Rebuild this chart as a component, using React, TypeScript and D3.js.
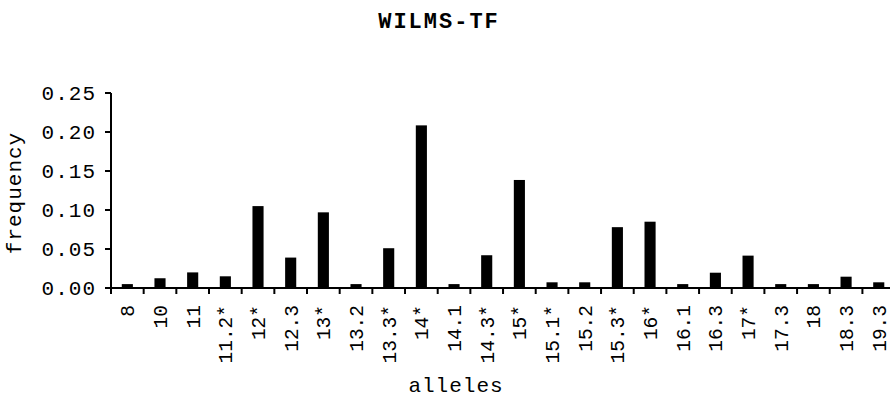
import React, { useEffect, useRef } from 'react';
import * as d3 from 'd3';

const alleles = [
  '8', '10', '11', '11.2*', '12*', '12.3', '13*', '13.2', '13.3*', '14*', '14.1', '14.3*',
  '15*', '15.1*', '15.2', '15.3*', '16*', '16.1', '16.3', '17*', '17.3', '18', '18.3', '19.3',
];
const frequencies = [
  0.005, 0.0125, 0.02, 0.015, 0.105, 0.039, 0.097, 0.005, 0.051, 0.2085, 0.005, 0.042,
  0.1385, 0.0073, 0.0073, 0.078, 0.085, 0.005, 0.0196, 0.0415, 0.005, 0.005, 0.0145, 0.0073,
];
const yTicks = [0, 0.05, 0.1, 0.15, 0.2, 0.25];

const WIDTH = 890;
const HEIGHT = 397;
const FONT = '"Liberation Mono", "Courier New", monospace';

export default function App() {
  const svgRef = useRef<SVGSVGElement>(null);

  useEffect(() => {
    if (!svgRef.current) return;
    const svg = d3.select(svgRef.current);
    svg.selectAll('*').remove();

    const margin = { left: 111, top: 93, bottom: 288 };

    // the plot runs a little past the right edge of the picture, as in the original
    const x = d3.scaleBand<string>()
      .domain(alleles)
      .range([margin.left, margin.left + 24 * 32.67])
      .padding(0);
    const y = d3.scaleLinear().domain([0, 0.25]).range([margin.bottom, margin.top]);

    // title
    svg.append('text')
      .attr('x', 439)
      .attr('y', 28)
      .attr('text-anchor', 'middle')
      .attr('font-family', FONT)
      .attr('font-weight', 'bold')
      .attr('font-size', 22)
      .attr('letter-spacing', 2)
      .text('WILMS-TF');

    // bars
    const barW = x.bandwidth() * 0.34;
    svg.append('g')
      .selectAll('rect')
      .data(alleles)
      .join('rect')
      .attr('x', d => (x(d) || 0) + x.bandwidth() / 2 - barW / 2)
      .attr('y', (d, i) => y(frequencies[i]))
      .attr('width', barW)
      .attr('height', (d, i) => y(0) - y(frequencies[i]))
      .attr('fill', '#000');

    // y axis
    const ya = svg.append('g');
    ya.append('line')
      .attr('x1', margin.left).attr('x2', margin.left)
      .attr('y1', y(0.25)).attr('y2', y(0))
      .attr('stroke', '#000').attr('stroke-width', 2);
    yTicks.forEach(t => {
      ya.append('line')
        .attr('x1', margin.left - 6).attr('x2', margin.left)
        .attr('y1', y(t)).attr('y2', y(t))
        .attr('stroke', '#000').attr('stroke-width', 2);
      ya.append('text')
        .attr('x', 96)
        .attr('y', y(t))
        .attr('dy', '0.35em')
        .attr('text-anchor', 'end')
        .attr('font-family', FONT)
        .attr('font-size', 21)
        .attr('letter-spacing', 1)
        .text(t.toFixed(2));
    });

    // x axis
    const xa = svg.append('g');
    const [r0, r1] = x.range();
    xa.append('line')
      .attr('x1', r0).attr('x2', r1)
      .attr('y1', y(0)).attr('y2', y(0))
      .attr('stroke', '#000').attr('stroke-width', 2);
    alleles.forEach(a => {
      const bx = x(a) || 0;
      xa.append('line')
        .attr('x1', bx).attr('x2', bx)
        .attr('y1', y(0)).attr('y2', y(0) + 6)
        .attr('stroke', '#000').attr('stroke-width', 2);
      const cx = bx + x.bandwidth() / 2;
      xa.append('text')
        .attr('transform', `translate(${cx},305) rotate(-90)`)
        .attr('dy', '0.35em')
        .attr('text-anchor', 'end')
        .attr('font-family', FONT)
        .attr('font-size', 19.5)
        .text(a);
    });

    // axis titles
    svg.append('text')
      .attr('x', 456)
      .attr('y', 392)
      .attr('text-anchor', 'middle')
      .attr('font-family', FONT)
      .attr('font-size', 21)
      .attr('letter-spacing', 1)
      .text('alleles');

    svg.append('text')
      .attr('transform', 'translate(21,193) rotate(-90)')
      .attr('text-anchor', 'middle')
      .attr('font-family', FONT)
      .attr('font-size', 21)
      .attr('letter-spacing', 1)
      .text('frequency');
  }, []);

  return (
    <svg
      ref={svgRef}
      width={WIDTH}
      height={HEIGHT}
      style={{ position: 'fixed', top: 0, left: 0, background: '#fff' }}
    />
  );
}
